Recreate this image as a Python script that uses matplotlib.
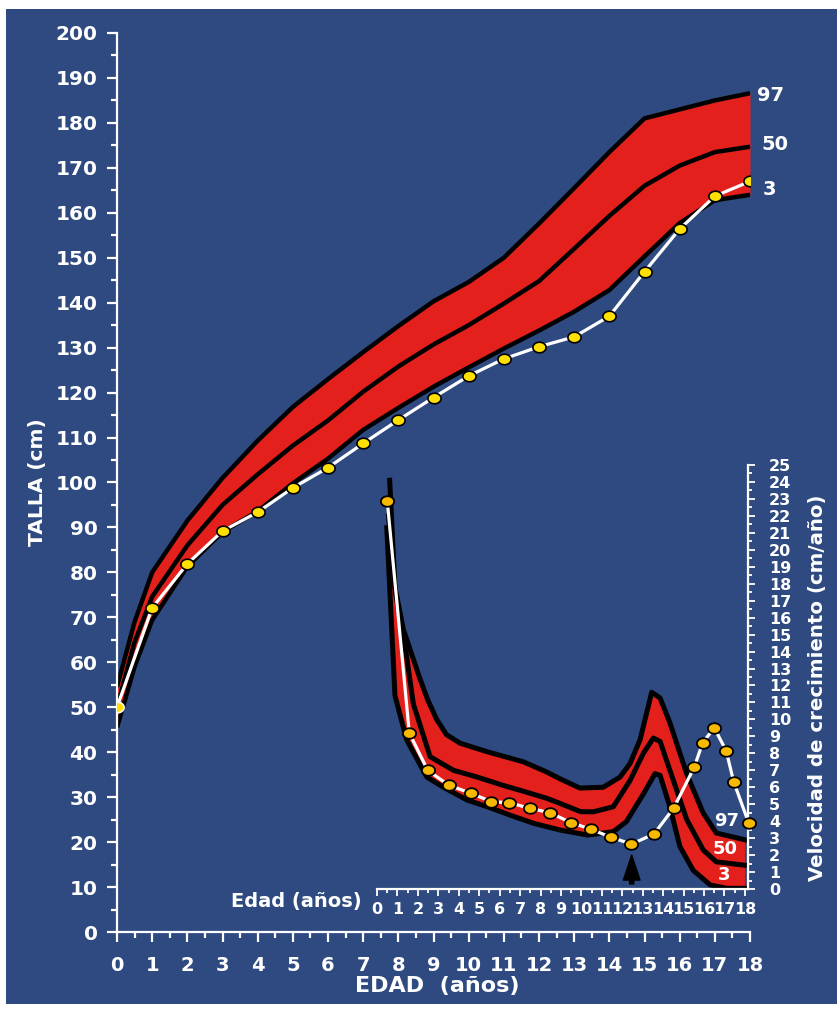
import numpy as np
import matplotlib
matplotlib.use("Agg")
import matplotlib.pyplot as plt
from matplotlib.patches import Rectangle
from matplotlib.path import Path
from matplotlib.ticker import MultipleLocator
from matplotlib import font_manager

# Talla: percentiles 3, 50 y 97 (cm)
edad_p = [0, 0.5, 1, 2, 3, 4, 5, 6, 7, 8, 9, 10, 11, 12, 13, 14, 15, 16, 17, 18]
talla_p97 = [54.5, 69, 80, 91.5, 101, 109.3, 116.8, 123, 129, 134.8, 140.3, 144.6, 150, 157.6, 165.5, 173.5, 181, 183, 185, 186.6]
talla_p50 = [50, 64.5, 74.6, 86, 95, 101.8, 108.2, 113.8, 120.2, 125.8, 130.7, 135, 139.8, 144.8, 152, 159.3, 166, 170.5, 173.5, 174.7]
talla_p3 = [45.5, 59, 69.4, 81.3, 89, 93.6, 99.8, 105.3, 111.7, 116.6, 121.3, 125.6, 129.8, 133.8, 138, 142.8, 150.3, 157.7, 162.8, 164]

# Talla del paciente
edad_pac = list(range(0, 19))
talla_pac = [50, 72.1, 81.9, 89.2, 93.4, 98.8, 103.3, 108.7, 113.9, 118.9, 123.7, 127.5, 130.2, 132.4, 137.0, 146.9, 156.4, 163.7, 167.0]

# Velocidad de crecimiento: percentiles (cm/año)
edad_v97 = [0.62, 0.88, 1.29, 2.1, 2.5, 2.92, 3.4, 4.06, 5.37, 7.16, 8.3, 8.95, 9.93, 11.07, 11.89, 12.38, 12.87, 13.44, 13.85, 14.33, 15.15, 15.95, 16.6, 18.0]
vel_p97 = [24.1, 17.8, 15.3, 12.4, 11.1, 10.0, 9.1, 8.6, 8.1, 7.5, 6.9, 6.5, 5.95, 6.0, 6.6, 7.4, 8.8, 11.6, 11.26, 9.8, 6.8, 4.5, 3.3, 2.9]
edad_v50 = [0.56, 0.9, 1.45, 1.78, 2.6, 3.74, 4.9, 6.2, 7.34, 8.3, 8.95, 9.96, 10.58, 11.56, 12.38, 13.03, 13.52, 13.85, 14.5, 15.15, 15.96, 16.6, 18.0]
vel_p50 = [22.0, 17.5, 13.7, 10.9, 7.8, 7.0, 6.6, 6.1, 5.7, 5.35, 5.05, 4.56, 4.55, 4.85, 6.4, 8.0, 8.9, 8.7, 6.4, 4.1, 2.3, 1.6, 1.4]
edad_v3 = [0.48, 0.88, 1.45, 2.44, 3.25, 4.4, 5.4, 6.5, 7.67, 8.95, 10.3, 11.56, 12.2, 13.03, 13.6, 13.85, 14.33, 14.82, 15.47, 16.3, 17.1, 18.0]
vel_p3 = [21.3, 11.4, 8.8, 6.6, 6.0, 5.25, 4.85, 4.36, 3.87, 3.48, 3.18, 3.38, 3.97, 5.6, 6.8, 6.7, 4.85, 2.5, 1.1, 0.24, 0.04, 0.04]

# Velocidad del paciente
edad_vpac = [0.5, 1.58, 2.48, 3.5, 4.6, 5.6, 6.45, 7.48, 8.45, 9.48, 10.47, 11.47, 12.45, 13.55, 14.52, 15.52, 15.93, 16.5, 17.08, 17.45, 18.18]
vel_pac = [22.9, 9.2, 7.0, 6.13, 5.64, 5.15, 5.09, 4.76, 4.5, 3.92, 3.52, 3.04, 2.65, 3.24, 4.78, 7.18, 8.62, 9.5, 8.16, 6.32, 3.91]

edad_flecha = 12.46

azul = "#2e4a80"
rojo = "#e3201b"
amarillo = "#ffe000"
ambar = "#f7b800"

nombres = {f.name for f in font_manager.fontManager.ttflist}
estrecha = "Liberation Sans Narrow" if "Liberation Sans Narrow" in nombres else "DejaVu Sans"

plt.rcParams["font.family"] = ["DejaVu Sans"]
plt.rcParams["font.weight"] = "bold"

W, H = 840, 1009
fig = plt.figure(figsize=(W / 100, H / 100), dpi=100, facecolor="white")
fig.add_artist(Rectangle((6 / W, 5 / H), (W - 9) / W, (H - 14) / H,
                         transform=fig.transFigure, facecolor=azul, edgecolor="none", zorder=-10))

# marcador eliptico
t = np.linspace(0, 2 * np.pi, 60)
elipse = Path(np.column_stack([1.25 * np.cos(t), np.sin(t)]))

# ---- grafico principal de talla ----
ax = fig.add_axes([117 / W, 77 / H, 633 / W, 899 / H])
ax.set_facecolor("none")
ax.set_xlim(0, 18)
ax.set_ylim(0, 200)
ax.fill_between(edad_p, talla_p3, talla_p97, color=rojo, lw=0, zorder=1)
for serie in (talla_p97, talla_p50, talla_p3):
    ax.plot(edad_p, serie, color="black", lw=3.2, zorder=2, solid_capstyle="butt", solid_joinstyle="round")
ax.plot(edad_pac, talla_pac, color="white", lw=2.3, zorder=3)
ax.plot(edad_pac[1:], talla_pac[1:], ls="none", marker=elipse, ms=9.5, mfc=amarillo, mec="black", mew=1.2, zorder=4)
ax.plot(edad_pac[:1], talla_pac[:1], ls="none", marker=elipse, ms=9.5, mfc=amarillo, mec="white", mew=1.2, zorder=4)

for s in ("top", "right"):
    ax.spines[s].set_visible(False)
for s in ("left", "bottom"):
    ax.spines[s].set_color("white")
    ax.spines[s].set_linewidth(1.6)
ax.yaxis.set_major_locator(MultipleLocator(10))
ax.yaxis.set_minor_locator(MultipleLocator(5))
ax.xaxis.set_major_locator(MultipleLocator(1))
ax.xaxis.set_minor_locator(MultipleLocator(0.5))
ax.tick_params(which="both", colors="white", width=1.6)
ax.tick_params(axis="y", which="major", length=7, pad=7, labelsize=14.5)
ax.tick_params(axis="y", which="minor", length=4)
ax.tick_params(axis="x", which="major", length=7, pad=10, labelsize=14)
ax.tick_params(axis="x", which="minor", length=4)
for lab in ax.get_xticklabels() + ax.get_yticklabels():
    lab.set_fontweight("bold")

ax.text(18.57, 186.2, "97", color="white", fontsize=14, fontweight="bold", ha="center", va="center", clip_on=False)
ax.text(18.71, 175.1, "50", color="white", fontsize=14, fontweight="bold", ha="center", va="center", clip_on=False)
ax.text(18.54, 165.1, "3", color="white", fontsize=14, fontweight="bold", ha="center", va="center", clip_on=False)

fig.text(37 / W, 1 - 482 / H, "TALLA (cm)", rotation=90, color="white", fontsize=14.6,
         fontweight="bold", family=[estrecha, "DejaVu Sans"], ha="center", va="center")
fig.text(437 / W, 1 - 986 / H, "EDAD  (años)", color="white", fontsize=16,
         fontweight="bold", family=[estrecha, "DejaVu Sans"], ha="center", va="center")

# ---- grafico insertado de velocidad ----
iv = fig.add_axes([377 / W, 120 / H, 371 / W, 424 / H])
iv.set_facecolor("none")
iv.set_xlim(0, 18.15)
iv.set_ylim(0, 25)
poly_x = edad_v97 + edad_v3[::-1]
poly_y = vel_p97 + vel_p3[::-1]
iv.fill(poly_x, poly_y, color=rojo, lw=0, zorder=1)
iv.plot(edad_v97, vel_p97, color="black", lw=3.6, zorder=2, solid_joinstyle="round")
iv.plot(edad_v50, vel_p50, color="black", lw=3.6, zorder=2, solid_joinstyle="round")
iv.plot(edad_v3, vel_p3, color="black", lw=3.6, zorder=2, solid_joinstyle="round")
iv.plot(edad_vpac, vel_pac, color="white", lw=2.3, zorder=3)
iv.plot(edad_vpac, vel_pac, ls="none", marker=elipse, ms=9.5, mfc=ambar, mec="black", mew=1.3, zorder=4, clip_on=False)

iv.annotate("", xy=(edad_flecha, 2.0), xytext=(edad_flecha, 0.3),
            arrowprops=dict(facecolor="black", edgecolor="black", width=3, headwidth=12, headlength=18, shrink=0))

iv.text(17.1, 4.0, "97", color="white", fontsize=13, fontweight="bold", ha="center", va="center")
iv.text(17.05, 2.35, "50", color="white", fontsize=13, fontweight="bold", ha="center", va="center")
iv.text(17.0, 0.83, "3", color="white", fontsize=13, fontweight="bold", ha="center", va="center")

for s in ("top", "left"):
    iv.spines[s].set_visible(False)
for s in ("right", "bottom"):
    iv.spines[s].set_color("white")
    iv.spines[s].set_linewidth(1.6)
iv.yaxis.tick_right()
iv.yaxis.set_major_locator(MultipleLocator(1))
iv.yaxis.set_minor_locator(MultipleLocator(0.5))
iv.xaxis.set_minor_locator(MultipleLocator(0.5))
iv.set_xticks(range(0, 19))
iv.tick_params(which="both", colors="white", width=1.3)
iv.tick_params(which="major", length=5, labelsize=11.5, pad=4)
iv.tick_params(which="minor", length=3)
iv.tick_params(axis="y", pad=10)
for lab in iv.get_xticklabels() + iv.get_yticklabels():
    lab.set_fontweight("bold")

fig.text(296 / W, 1 - 902 / H, "Edad (años)", color="white", fontsize=14,
         fontweight="bold", family=[estrecha, "DejaVu Sans"], ha="center", va="center")
fig.text(817 / W, 1 - 688 / H, "Velocidad de crecimiento (cm/año)", rotation=90, color="white",
         fontsize=14.2, fontweight="bold", family=[estrecha, "DejaVu Sans"], ha="center", va="center")

fig.savefig("out.png", dpi=100, facecolor="white")
